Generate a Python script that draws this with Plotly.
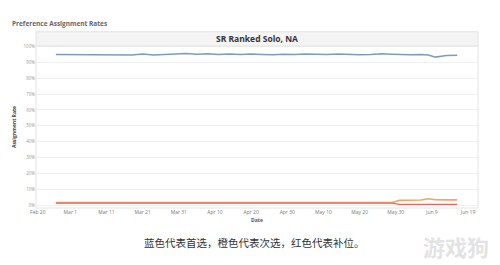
import plotly.graph_objects as go

dates = ["2019-02-25", "2019-02-28", "2019-03-03", "2019-03-06", "2019-03-09", "2019-03-12",
         "2019-03-15", "2019-03-18", "2019-03-21", "2019-03-24", "2019-03-27", "2019-03-30",
         "2019-04-02", "2019-04-05", "2019-04-08", "2019-04-11", "2019-04-14", "2019-04-17",
         "2019-04-20", "2019-04-23", "2019-04-26", "2019-04-29", "2019-05-02", "2019-05-05",
         "2019-05-08", "2019-05-11", "2019-05-14", "2019-05-17", "2019-05-20", "2019-05-23",
         "2019-05-26", "2019-05-29", "2019-05-31", "2019-06-03", "2019-06-06", "2019-06-08",
         "2019-06-10", "2019-06-13", "2019-06-16"]

primary = [94.9, 94.9, 94.9, 94.9, 94.9, 94.8, 94.8, 94.7, 95.2, 94.7, 94.9, 95.3,
           95.5, 95.1, 95.4, 95.0, 95.3, 94.9, 95.2, 95.0, 94.8, 95.1, 94.9, 95.2,
           94.9, 95.0, 95.3, 95.0, 94.8, 95.0, 95.4, 95.1, 94.9, 94.8, 94.9, 94.6,
           93.3, 94.3, 94.4]

secondary = [1.6, 1.6, 1.6, 1.7, 1.7, 1.7, 1.8, 1.8, 1.9, 1.8, 1.8, 1.7,
             1.6, 1.7, 1.6, 1.7, 1.6, 1.7, 1.6, 1.7, 1.7, 1.6, 1.6, 1.6,
             1.7, 1.6, 1.6, 1.7, 1.7, 1.7, 1.6, 1.7, 3.0, 3.1, 3.2, 4.0,
             3.4, 3.3, 3.3]

autofill = [1.3, 1.3, 1.3, 1.3, 1.4, 1.4, 1.3, 1.4, 1.3, 1.4, 1.5, 1.3,
            1.2, 1.3, 1.2, 1.3, 1.2, 1.3, 1.2, 1.3, 1.2, 1.3, 1.2, 1.3,
            1.3, 1.2, 1.3, 1.3, 1.3, 1.3, 1.3, 1.3, 0.5, 0.5, 0.6, 0.6,
            0.6, 0.5, 0.5]

tick_dates = ["2019-02-20", "2019-03-01", "2019-03-11", "2019-03-21", "2019-03-31",
              "2019-04-10", "2019-04-20", "2019-04-30", "2019-05-10", "2019-05-20",
              "2019-05-30", "2019-06-09", "2019-06-19"]
tick_labels = ["Feb 20", "Mar 1", "Mar 11", "Mar 21", "Mar 31", "Apr 10", "Apr 20",
               "Apr 30", "May 10", "May 20", "May 30", "Jun 9", "Jun 19"]
y_ticks = [0, 10, 20, 30, 40, 50, 60, 70, 80, 90, 100]
y_labels = [f"{v}%" for v in y_ticks]

fig = go.Figure()
fig.add_trace(go.Scatter(x=dates, y=primary, mode="lines",
                         line=dict(color="#7e9bbd", width=1.5), name="Primary"))
fig.add_trace(go.Scatter(x=dates, y=secondary, mode="lines",
                         line=dict(color="#f5a461", width=1.6), name="Secondary"))
fig.add_trace(go.Scatter(x=dates, y=autofill, mode="lines",
                         line=dict(color="#e8656a", width=1.4), name="Autofill"))

font_main = "Open Sans, Lato, DejaVu Sans, sans-serif"

fig.update_layout(
    width=500, height=265,
    margin=dict(l=36, r=22, t=46, b=57),
    paper_bgcolor="white", plot_bgcolor="white",
    showlegend=False,
    font=dict(family=font_main, size=5, color="#888"),
    xaxis=dict(range=["2019-02-19 12:00", "2019-06-21 18:00"],
               tickvals=tick_dates, ticktext=tick_labels,
               tickfont=dict(size=5, color="#777"),
               showgrid=False, zeroline=False, showline=False, ticks="",
               title=dict(text="<b>Date</b>", font=dict(size=5, color="#555"), standoff=4)),
    yaxis=dict(range=[-1.8, 100.3], tickvals=y_ticks, ticktext=y_labels,
               tickfont=dict(size=4.5, color="#999"),
               showgrid=True, gridcolor="#f0f0f0", gridwidth=0.6,
               zeroline=False, showline=False, ticks="",
               title=dict(text="<b>Assignment Rate</b>", font=dict(size=5, color="#444"), standoff=6)),
)

# plot border
fig.add_shape(type="rect", xref="paper", yref="paper", x0=0, x1=1, y0=0, y1=1,
              line=dict(color="#e4e4e4", width=1), fillcolor="rgba(0,0,0,0)")
# title band
fig.add_shape(type="rect", xref="paper", yref="paper", x0=0, x1=1, y0=1.0, y1=1.088,
              line=dict(color="#e4e4e4", width=1), fillcolor="#f4f4f4")
fig.add_annotation(text="<b>SR Ranked Solo, NA</b>", xref="paper", yref="paper",
                   x=0.5, y=1.044, showarrow=False, yanchor="middle",
                   font=dict(family=font_main, size=8.5, color="#333"))
fig.add_annotation(text="<b>Preference Assignment Rates</b>", xref="paper", yref="paper",
                   x=-0.058, y=1.14, xanchor="left", yanchor="middle", showarrow=False,
                   font=dict(family=font_main, size=6.5, color="#666"))
fig.add_annotation(text="蓝色代表首选，橙色代表次选，红色代表补位。", xref="paper", yref="paper",
                   x=0.495, y=-0.215, xanchor="center", yanchor="middle", showarrow=False,
                   font=dict(family="Noto Sans CJK SC", size=10.5, color="#333"))
fig.add_annotation(text="<b>游戏狗</b>", xref="paper", yref="paper",
                   x=1.03, y=-0.235, xanchor="right", yanchor="middle", showarrow=False,
                   font=dict(family="Noto Sans CJK SC", size=22, color="rgba(215,215,215,0.7)"))

fig.write_html("out.html")
